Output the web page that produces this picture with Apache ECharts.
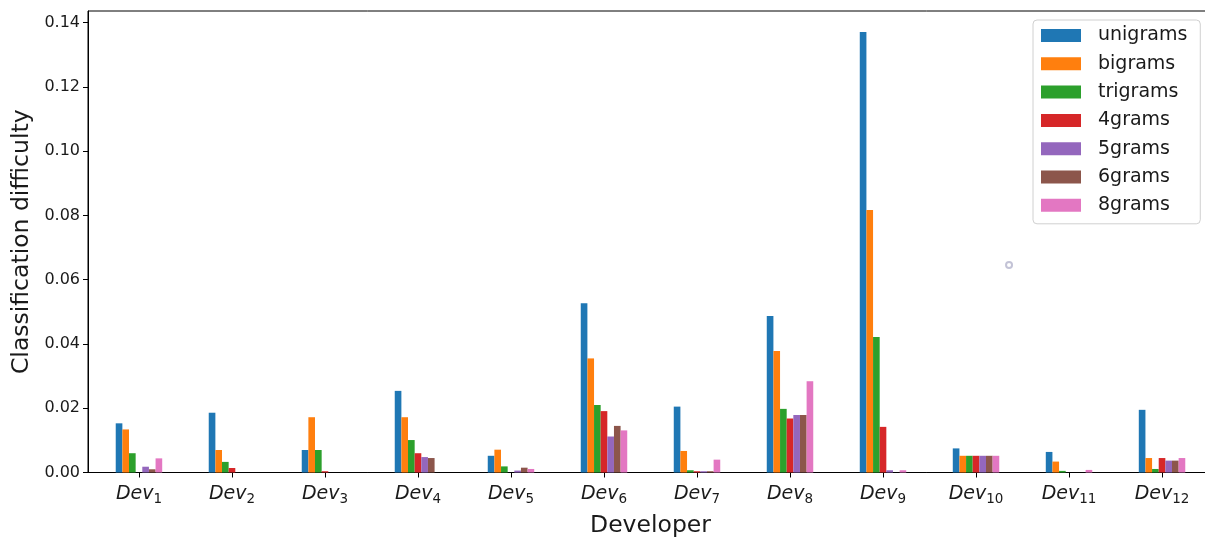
<!DOCTYPE html>
<html>
<head>
<meta charset="utf-8">
<script src="https://cdn.jsdelivr.net/npm/echarts@6/dist/echarts.min.js"></script>
<style>html,body{margin:0;padding:0;background:#fff}#c{width:1205px;height:538px}</style>
</head>
<body>
<div id="c"></div>
<script>
const developers = ['1','2','3','4','5','6','7','8','9','10','11','12'];
const seriesNames = ['unigrams','bigrams','trigrams','4grams','5grams','6grams','8grams'];
const colors = ['#1f77b4','#ff7f0e','#2ca02c','#d62728','#9467bd','#8c564b','#e377c2'];
const unigrams   = [0.0153, 0.0186, 0.0070, 0.0254, 0.0052, 0.0527, 0.0205, 0.0487, 0.1371, 0.0075, 0.0064, 0.0195];
const bigrams    = [0.0134, 0.0070, 0.0172, 0.0172, 0.0071, 0.0355, 0.0067, 0.0378, 0.0817, 0.0052, 0.0034, 0.0045];
const trigrams   = [0.0060, 0.0033, 0.0070, 0.0101, 0.0019, 0.0210, 0.0007, 0.0198, 0.0422, 0.0052, 0.0005, 0.0011];
const fourgrams  = [0.0000, 0.0014, 0.0004, 0.0060, 0.0000, 0.0191, 0.0004, 0.0168, 0.0142, 0.0052, 0.0000, 0.0045];
const fivegrams  = [0.0018, 0.0000, 0.0000, 0.0048, 0.0006, 0.0112, 0.0004, 0.0179, 0.0007, 0.0052, 0.0000, 0.0037];
const sixgrams   = [0.0010, 0.0000, 0.0000, 0.0045, 0.0015, 0.0145, 0.0004, 0.0179, 0.0000, 0.0052, 0.0000, 0.0037];
const eightgrams = [0.0044, 0.0000, 0.0000, 0.0000, 0.0011, 0.0131, 0.0040, 0.0284, 0.0007, 0.0052, 0.0008, 0.0045];
const yTicks = [0, 0.02, 0.04, 0.06, 0.08, 0.10, 0.12, 0.14];
const strayPoint = [9.355, 0.0646];

const allSeries = [unigrams, bigrams, trigrams, fourgrams, fivegrams, sixgrams, eightgrams];
const FONT = 'DejaVu Sans';
const chart = echarts.init(document.getElementById('c'), null, {renderer: 'canvas'});
const tickIdx = developers.map((d, i) => i);

const series = allSeries.map((arr, k) => ({
  name: seriesNames[k],
  type: 'bar',
  data: arr.map((v, i) => [i, v]),
  barWidth: 6.64,
  barGap: '0%',
  itemStyle: {color: colors[k]},
  emphasis: {disabled: true},
  animation: false
}));
series.push({
  type: 'scatter',
  data: [strayPoint],
  symbol: 'emptyCircle',
  symbolSize: 6,
  itemStyle: {color: '#b4b4cc', borderWidth: 1.2},
  silent: true,
  animation: false
});

chart.setOption({
  animation: false,
  backgroundColor: '#fff',
  color: colors,
  grid: {left: 88, top: 11, width: 1125, height: 461.5, outerBoundsMode: 'none', containLabel: false,
         show: true, borderColor: '#000', borderWidth: 1, backgroundColor: 'transparent'},
  legend: {
    data: seriesNames,
    orient: 'vertical',
    left: 1033, top: 20,
    itemWidth: 40, itemHeight: 13, itemGap: 9.3,
    icon: 'rect',
    padding: [6, 13, 9, 8],
    backgroundColor: '#fff',
    borderColor: '#d0d0d0', borderWidth: 1, borderRadius: 4,
    textStyle: {fontFamily: FONT, fontSize: 19, color: '#1a1a1a', lineHeight: 19, padding: [0, 0, 0, 12]},
    selectedMode: false
  },
  xAxis: {
    type: 'value',
    min: -0.548, max: 11.548,
    name: 'Developer',
    nameLocation: 'middle',
    nameGap: 41,
    nameTextStyle: {fontFamily: FONT, fontSize: 23.5, color: '#1a1a1a'},
    axisLine: {show: true, onZero: false, lineStyle: {color: '#000', width: 1}},
    axisTick: {show: true, length: 5, customValues: tickIdx, lineStyle: {color: '#000'}},
    splitLine: {show: false},
    axisLabel: {
      customValues: tickIdx,
      margin: 11,
      formatter: v => '{a|Dev}{b|' + developers[Math.round(v)] + '}',
      rich: {
        a: {fontFamily: FONT, fontStyle: 'italic', fontSize: 19, color: '#1a1a1a', lineHeight: 22, verticalAlign: 'middle'},
        b: {fontFamily: FONT, fontSize: 13.5, color: '#1a1a1a', lineHeight: 13, padding: [9, 0, 0, 0], verticalAlign: 'middle'}
      }
    }
  },
  yAxis: {
    type: 'value',
    min: 0, max: 0.1436,
    interval: 0.02,
    name: 'Classification difficulty',
    nameLocation: 'middle',
    nameGap: 53,
    nameTextStyle: {fontFamily: FONT, fontSize: 23.5, color: '#1a1a1a'},
    axisLine: {show: true, onZero: false, lineStyle: {color: '#000', width: 1}},
    axisTick: {show: true, length: 5, customValues: yTicks, lineStyle: {color: '#000'}},
    splitLine: {show: false},
    axisLabel: {
      customValues: yTicks,
      margin: 8,
      fontFamily: FONT, fontSize: 16, color: '#1a1a1a',
      formatter: v => v.toFixed(2)
    }
  },
  series: series
});
</script>
</body>
</html>
